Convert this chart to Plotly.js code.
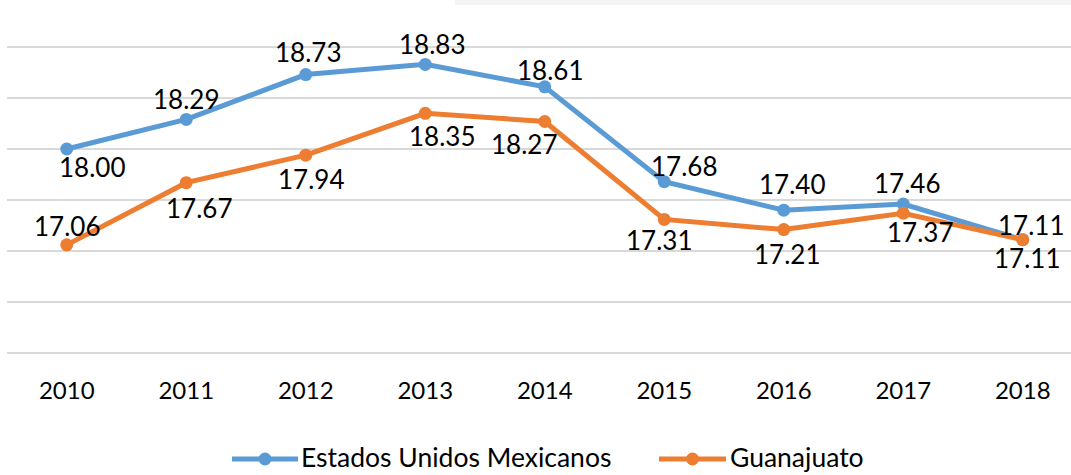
<!DOCTYPE html>
<html>
<head>
<meta charset="utf-8">
<script src="https://cdn.plot.ly/plotly-3.0.1.min.js"></script>
<style>
html,body{margin:0;padding:0;background:#fff;}
#chart{width:1071px;height:475px;}
</style>
</head>
<body>
<div id="chart"></div>
<script>
// ---- data ----
const years = ["2010","2011","2012","2013","2014","2015","2016","2017","2018"];
const nacional = [18.00, 18.29, 18.73, 18.83, 18.61, 17.68, 17.40, 17.46, 17.11];
const guanajuato = [17.06, 17.67, 17.94, 18.35, 18.27, 17.31, 17.21, 17.37, 17.11];
const seriesNames = ["Estados Unidos Mexicanos", "Guanajuato"];

// ---- label offsets (px, style only) ----
const nacionalShift = [[25,-18],[0,20],[2,23],[7,20],[5,17],[20,16],[8,26],[4,21],[8,15]];
const guanajuatoShift = [[0,19],[13,-25],[5,-24],[17,-23],[-21,-23],[-5,-21],[3,-24],[17,-19],[4,-18]];

const BLUE = '#5B9BD5', ORANGE = '#ED7D31';
const FONT = 'Lato, "Open Sans", sans-serif';

function trace(y, name, color){
  return {x: years, y: y, name: name, type: 'scatter', mode: 'lines+markers',
    line: {color: color, width: 5}, marker: {color: color, size: 13},
    cliponaxis: false, showlegend: false, hoverinfo: 'skip'};
}

const annotations = [];
function addLabels(vals, shifts){
  vals.forEach((v,i)=>{
    // category axis: position by category index
    annotations.push({x: i, y: v, xref:'x', yref:'y', text: v.toFixed(2),
      showarrow:false, xanchor:'center', yanchor:'middle',
      xshift: shifts[i][0], yshift: shifts[i][1],
      font:{family:FONT, size:26, color:'#000'}});
  });
}
addLabels(nacional, nacionalShift);
addLabels(guanajuato, guanajuatoShift);

// ---- custom legend (paper coords) ----
const L = 7, W = 1064, T = 45, H = 310;
const px = v => (v - L) / W;
const py = v => (T + H - v) / H;
const legendItems = [
  {name: seriesNames[0], color: BLUE, x0: 232, x1: 298, tx: 299},
  {name: seriesNames[1], color: ORANGE, x0: 659, x1: 726, tx: 728}
];
const shapes = [
  {type:'rect', xref:'paper', yref:'paper', x0: px(455), x1: px(1071), y0: py(5), y1: py(0),
   fillcolor:'#f3f3f3', line:{width:0}, layer:'below'}
];
const ly = 459, ty = 457;
legendItems.forEach(it=>{
  shapes.push({type:'line', xref:'paper', yref:'paper', x0: px(it.x0), x1: px(it.x1), y0: py(ly), y1: py(ly),
    line:{color: it.color, width:5}});
  shapes.push({type:'circle', xref:'paper', yref:'paper', xsizemode:'pixel', ysizemode:'pixel',
    xanchor: px((it.x0+it.x1)/2), yanchor: py(ly), x0:-6.5, x1:6.5, y0:-6.5, y1:6.5,
    fillcolor: it.color, line:{width:0}});
  annotations.push({xref:'paper', yref:'paper', x: px(it.tx), y: py(ty), text: it.name,
    showarrow:false, xanchor:'left', yanchor:'middle',
    font:{family:FONT, size:26.5, color:'#000'}});
});

const layout = {
  width: 1071, height: 475,
  margin: {l: L, r: 0, t: T, b: 475 - T - H, pad: 0},
  paper_bgcolor: '#fff', plot_bgcolor: '#fff',
  showlegend: false,
  xaxis: {type:'category', range:[-0.5, -0.5 + W/119.5], showgrid:false, zeroline:false,
    showline:false, ticks:'', ticklabelstandoff: 19,
    tickfont:{family:FONT, size:24, color:'#000'}, fixedrange:true},
  yaxis: {range:[15.98, 19.02], dtick:0.5, tick0:16, showticklabels:false, showgrid:true,
    gridcolor:'#d9d9d9', gridwidth:1.6, zeroline:false, showline:false, ticks:'', fixedrange:true},
  annotations: annotations,
  shapes: shapes
};

Plotly.newPlot('chart', [trace(nacional, seriesNames[0], BLUE), trace(guanajuato, seriesNames[1], ORANGE)], layout,
  {displayModeBar:false, staticPlot:true});
</script>
</body>
</html>
